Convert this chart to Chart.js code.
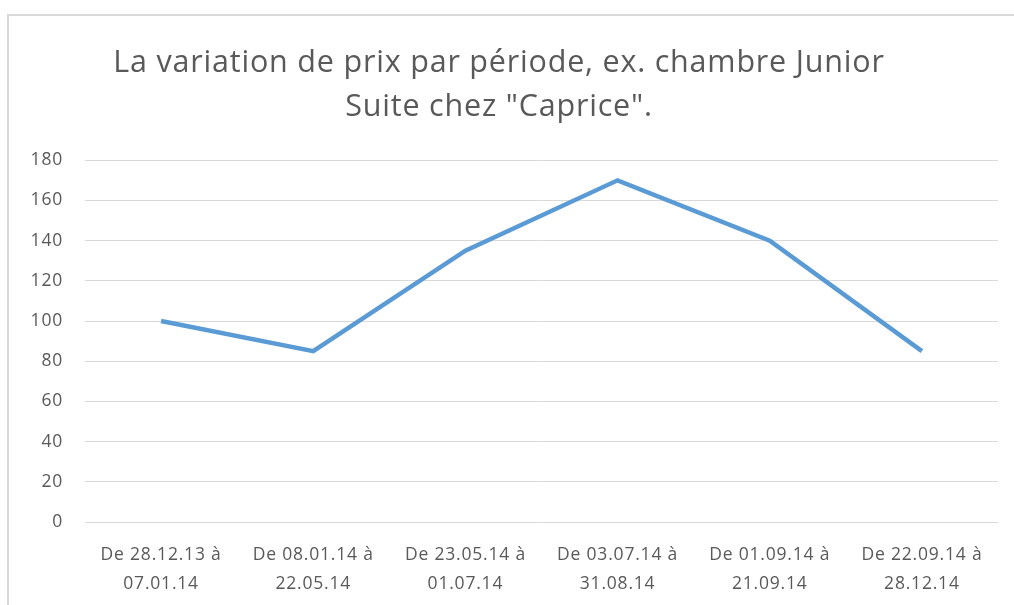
<!DOCTYPE html>
<html><head><meta charset="utf-8">
<script src="https://cdn.jsdelivr.net/npm/chart.js@4/dist/chart.umd.min.js"></script>
<style>html,body{margin:0;padding:0;background:#fff;}#wrap{width:1014px;height:605px;position:relative;}</style>
</head><body><div id="wrap"><canvas id="c" width="1014" height="605"></canvas></div>
<script>
const titleLines = ['La variation de prix par période, ex. chambre Junior', 'Suite chez "Caprice".'];
const categories = [
  ['De 28.12.13 à', '07.01.14'],
  ['De 08.01.14 à', '22.05.14'],
  ['De 23.05.14 à', '01.07.14'],
  ['De 03.07.14 à', '31.08.14'],
  ['De 01.09.14 à', '21.09.14'],
  ['De 22.09.14 à', '28.12.14']
];
const prices = [100, 85, 135, 170, 140, 85];
const yMin = 0, yMax = 180, yStep = 20;

const frame = {
  id: 'frame',
  afterInit(chart) {
    if ('letterSpacing' in chart.ctx) chart.ctx.letterSpacing = '0.8px';
  },
  beforeDraw(chart) {
    const ctx = chart.ctx;
    ctx.save();
    ctx.fillStyle = '#fff';
    ctx.fillRect(0, 0, chart.width, chart.height);
    ctx.strokeStyle = '#d9d9d9';
    ctx.lineWidth = 2;
    ctx.beginPath();
    ctx.moveTo(8, 605);
    ctx.lineTo(8, 15);
    ctx.lineTo(1014, 15);
    ctx.stroke();
    ctx.restore();
  }
};

const FONT = '"Open Sans", Lato, sans-serif';
new Chart(document.getElementById('c'), {
  type: 'line',
  data: {
    labels: categories,
    datasets: [{
      data: prices,
      borderColor: '#5b9bd5',
      borderWidth: 4.5,
      pointRadius: 0,
      tension: 0,
      fill: false
    }]
  },
  options: {
    responsive: false,
    animation: false,
    layout: { padding: { top: 42, right: 16, left: 0, bottom: 0 } },
    plugins: {
      legend: { display: false },
      tooltip: { enabled: false },
      title: {
        display: true,
        text: titleLines,
        color: '#595959',
        font: { family: FONT, size: 30.5, weight: 'normal', lineHeight: 1.43 },
        padding: { top: 0, bottom: 31 }
      }
    },
    scales: {
      x: {
        offset: true,
        grid: { display: false },
        border: { display: false },
        ticks: {
          color: '#595959',
          font: { family: FONT, size: 17.5, lineHeight: 1.66 },
          padding: 10,
          maxRotation: 0,
          autoSkip: false
        },
        afterFit(s) { s.height = 83; }
      },
      y: {
        min: yMin, max: yMax,
        grid: { color: '#d9d9d9', lineWidth: 1, drawTicks: false },
        border: { display: false },
        ticks: {
          stepSize: yStep,
          color: '#595959',
          font: { family: FONT, size: 17.5 },
          padding: 22
        },
        afterFit(s) { s.width = 85; }
      }
    }
  },
  plugins: [frame]
});
</script>
</body></html>
